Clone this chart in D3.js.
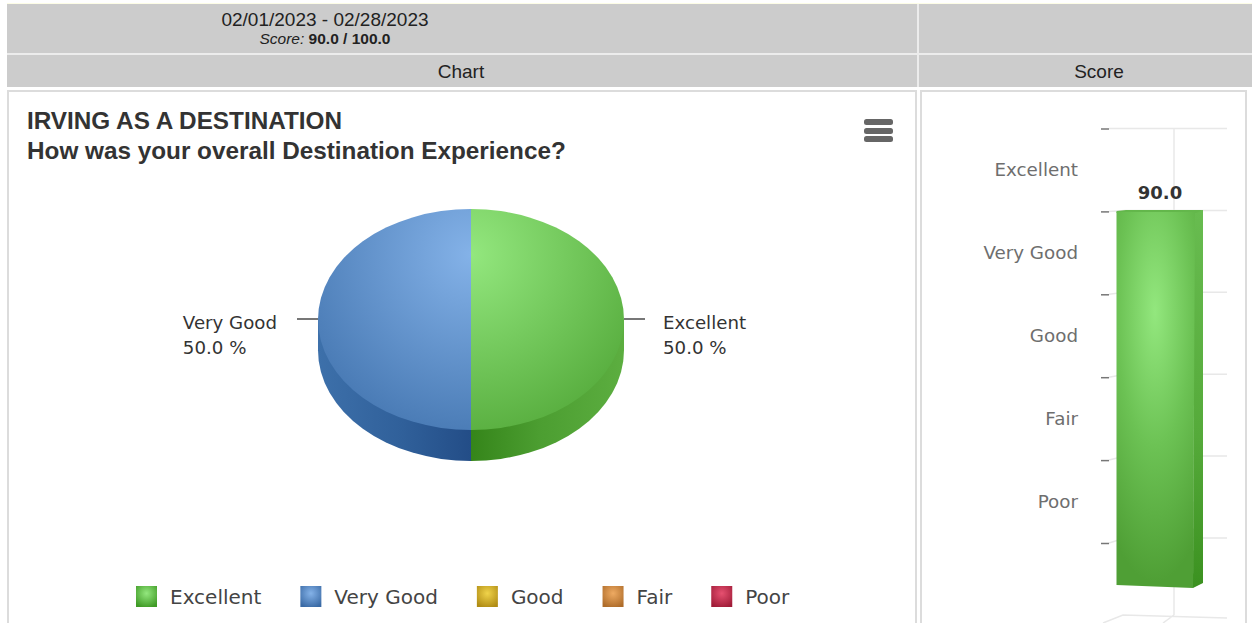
<!DOCTYPE html>
<html>
<head>
<meta charset="utf-8">
<script src="https://cdn.jsdelivr.net/npm/d3@7"></script>
<style>
    html, body { margin: 0; padding: 0; background: #fff; overflow: hidden; }
    svg { display: block; }
    text { font-family: "Liberation Sans", Arial, sans-serif; }
    .chart-text { font-family: "DejaVu Sans", sans-serif; }
</style>
</head>
<body>
<svg id="chart" width="1252" height="623"></svg>
<script>
// Chart data
const categories = ['Excellent', 'Very Good', 'Good', 'Fair', 'Poor'];
const pieCategories = ['Excellent', 'Very Good'];
const pieValues = [50, 50];
const scoreValue = 90;
const scoreTicks = [0, 20, 40, 60, 80, 100];

// Colours: [light, mid, dark] per category
const palette = {
    'Excellent': ['#93e77e', '#68bf50', '#3f9a25'],
    'Very Good': ['#84b2e8', '#5f8fc8', '#3a6aa5'],
    'Good': ['#f0d34a', '#d0aa28', '#b08c14'],
    'Fair': ['#eeaa62', '#cf8a42', '#ae6c2a'],
    'Poor': ['#e65070', '#c4304e', '#a01c38']
};

const svg = d3.select('#chart');
const defs = svg.append('defs');

// Page frame
svg.append('rect').attr('x', 7).attr('y', 3).attr('width', 1245).attr('height', 1).attr('fill', '#fdfde6');
svg.append('rect').attr('x', 7).attr('y', 4).attr('width', 1245).attr('height', 83).attr('fill', '#cccccc');
svg.append('rect').attr('x', 7).attr('y', 53).attr('width', 1245).attr('height', 2).attr('fill', '#ececec');
svg.append('rect').attr('x', 917).attr('y', 4).attr('width', 2).attr('height', 83).attr('fill', '#ececec');

[[8, 908], [921, 325]].forEach(([x, w]) => {
    svg.append('rect')
        .attr('x', x).attr('y', 91)
        .attr('width', w).attr('height', 560)
        .attr('fill', '#fff')
        .attr('stroke', '#dcdcdc')
        .attr('stroke-width', 2);
});

// Header text
svg.append('text').attr('x', 325).attr('y', 26).attr('text-anchor', 'middle')
    .style('font-size', '19px').style('fill', '#222').text('02/01/2023 - 02/28/2023');
const scoreLine = svg.append('text').attr('x', 325).attr('y', 44).attr('text-anchor', 'middle')
    .style('font-size', '15.5px').style('fill', '#222');
scoreLine.append('tspan').style('font-style', 'italic').text('Score: ');
scoreLine.append('tspan').style('font-weight', 'bold').text(`${scoreValue.toFixed(1)} / ${d3.max(scoreTicks).toFixed(1)}`);
svg.append('text').attr('x', 461).attr('y', 78).attr('text-anchor', 'middle')
    .style('font-size', '19px').style('fill', '#222').text('Chart');
svg.append('text').attr('x', 1099).attr('y', 78).attr('text-anchor', 'middle')
    .style('font-size', '19px').style('fill', '#222').text('Score');

// Titles
svg.append('text').attr('x', 27).attr('y', 129)
    .style('font-size', '24.3px').style('font-weight', 'bold').style('fill', '#333')
    .text('IRVING AS A DESTINATION');
svg.append('text').attr('x', 27).attr('y', 159)
    .style('font-size', '24.3px').style('font-weight', 'bold').style('fill', '#333')
    .text('How was your overall Destination Experience?');

// Menu button
[119, 128, 136].forEach(y => {
    svg.append('rect').attr('x', 864).attr('y', y)
        .attr('width', 29).attr('height', 6).attr('rx', 2.5)
        .attr('fill', '#666');
});

// 3D pie
const cx = 471, cy = 319.5, rx = 153, ry = 110.5, depth = 31;
const squash = ry / rx;
const pie = d3.pie().value(d => d).sort(null);
const arc = d3.arc().innerRadius(0).outerRadius(rx);
const slices = pie(pieValues);

// Slices are drawn in a squashed local space, so gradients are given in that space too
pieCategories.forEach((name, i) => {
    const c = palette[name];
    const id = 'slice-' + i;
    const top = defs.append('radialGradient').attr('id', id + '-top')
        .attr('gradientUnits', 'userSpaceOnUse')
        .attr('gradientTransform', `scale(1,${1 / squash}) translate(${-cx},${-cy})`)
        .attr('cx', cx).attr('cy', cy - 65).attr('r', 215);
    top.append('stop').attr('offset', 0).attr('stop-color', c[0]);
    top.append('stop').attr('offset', 1).attr('stop-color', i === 0 ? '#4fa535' : '#3f71ac');

    const side = defs.append('linearGradient').attr('id', id + '-side')
        .attr('gradientUnits', 'userSpaceOnUse')
        .attr('x1', 0).attr('x2', i === 0 ? rx : -rx)
        .attr('y1', 0).attr('y2', 0);
    side.append('stop').attr('offset', 0).attr('stop-color', i === 0 ? '#35851a' : '#234d87');
    side.append('stop').attr('offset', 0.45).attr('stop-color', i === 0 ? '#4c9e31' : '#30609a');
    side.append('stop').attr('offset', 1).attr('stop-color', i === 0 ? '#5cae40' : '#3d70aa');
});

const pieG = svg.append('g');

// wall first, then the top face
slices.forEach((d, i) => {
    const wall = pieG.append('g')
        .attr('transform', `translate(${cx},${cy + depth}) scale(1,${squash})`);
    wall.append('path')
        .attr('d', arc(d))
        .attr('fill', `url(#slice-${i}-side)`);
    wall.append('rect')
        .attr('x', i === 0 ? 0 : -rx)
        .attr('y', -depth / squash)
        .attr('width', rx)
        .attr('height', depth / squash)
        .attr('fill', `url(#slice-${i}-side)`);
});
slices.forEach((d, i) => {
    pieG.append('path')
        .attr('d', arc(d))
        .attr('transform', `translate(${cx},${cy}) scale(1,${squash})`)
        .attr('fill', `url(#slice-${i}-top)`);
});

// Pie labels with leader lines
slices.forEach((d, i) => {
    const mid = (d.startAngle + d.endAngle) / 2;
    const dir = Math.sin(mid) > 0 ? 1 : -1;
    const ly = cy - 0.5 - Math.cos(mid) * ry;
    svg.append('line')
        .attr('x1', cx + dir * rx).attr('x2', cx + dir * (rx + 21))
        .attr('y1', ly).attr('y2', ly)
        .attr('stroke', '#777').attr('stroke-width', 2);

    const label = svg.append('text').attr('class', 'chart-text')
        .attr('y', ly + 10)
        .style('font-size', '18.2px').style('fill', '#333')
        .text(pieCategories[i]);
    const w = label.node().getComputedTextLength();
    const lx = dir > 0 ? cx + rx + 39 : cx - rx - 41 - w;
    label.attr('x', lx);
    svg.append('text').attr('class', 'chart-text')
        .attr('x', lx).attr('y', ly + 35)
        .style('font-size', '18.2px').style('fill', '#333')
        .text(d.value.toFixed(1) + ' %');
});

// Legend, laid out left to right from measured text
let legendX = 136;
categories.forEach((name, i) => {
    const c = palette[name];
    const grad = defs.append('radialGradient').attr('id', 'legend-' + i)
        .attr('cx', 0.5).attr('cy', 0.35).attr('r', 0.7);
    grad.append('stop').attr('offset', 0).attr('stop-color', c[0]);
    grad.append('stop').attr('offset', 1).attr('stop-color', c[2]);
    svg.append('rect')
        .attr('x', legendX).attr('y', 586)
        .attr('width', 21).attr('height', 21)
        .attr('fill', `url(#legend-${i})`);
    const t = svg.append('text').attr('class', 'chart-text')
        .attr('x', legendX + 34).attr('y', 604)
        .style('font-size', '20px').style('fill', '#444')
        .text(name);
    legendX += 34 + t.node().getComputedTextLength() + 39;
});

// Score column (3D column chart)
const tickY = d3.scaleLinear().domain([0, 100]).range([543, 128.5]);
const wallY = d3.scaleLinear().domain([0, 100]).range([538, 128.5]);
const barY = d3.scaleLinear().domain([0, scoreValue]).range([585, 211]);
const bandY = d3.scaleBand().domain(categories).range([128, 543]);

const grid = svg.append('g');
grid.selectAll('path.grid')
    .data(scoreTicks)
    .enter().append('path')
    .attr('class', 'grid')
    .attr('d', d => `M1109,${tickY(d)}L1125,${wallY(d)}H1227`)
    .attr('fill', 'none')
    .attr('stroke', '#e8e8e8')
    .attr('stroke-width', 1.5);
grid.append('line').attr('x1', 1174).attr('x2', 1174).attr('y1', 128).attr('y2', 615)
    .attr('stroke', '#e8e8e8').attr('stroke-width', 1.5);
grid.append('path')
    .attr('d', 'M1103,623L1123,615L1227,618M1174,615L1163,623')
    .attr('fill', 'none').attr('stroke', '#e8e8e8').attr('stroke-width', 1.5);

// Axis ticks
const yAxis = d3.axisLeft(tickY).tickValues(scoreTicks).tickSize(8).tickFormat('');
const axisG = svg.append('g').attr('transform', 'translate(1109,0)').call(yAxis);
axisG.select('.domain').remove();
axisG.selectAll('line').attr('stroke', '#777').attr('stroke-width', 1.5);

// Category labels sit between the ticks
svg.selectAll('text.band')
    .data(categories)
    .enter().append('text')
    .attr('class', 'band chart-text')
    .attr('x', 1078)
    .attr('y', d => bandY(d) + bandY.bandwidth() / 2 + 6)
    .attr('text-anchor', 'end')
    .style('font-size', '18.3px')
    .style('fill', '#6e6e6e')
    .text(d => d);

// Column
const barFill = defs.append('radialGradient').attr('id', 'bar-front')
    .attr('gradientUnits', 'userSpaceOnUse')
    .attr('cx', 0).attr('cy', 0).attr('r', 1)
    .attr('gradientTransform', 'translate(1155,312) scale(75,270)');
barFill.append('stop').attr('offset', 0).attr('stop-color', '#93e77e');
barFill.append('stop').attr('offset', 0.5).attr('stop-color', '#6cc254');
barFill.append('stop').attr('offset', 1).attr('stop-color', '#4f9f35');
const barSide = defs.append('linearGradient').attr('id', 'bar-side')
    .attr('x1', 0).attr('x2', 0).attr('y1', 0).attr('y2', 1);
barSide.append('stop').attr('offset', 0).attr('stop-color', '#68bc50');
barSide.append('stop').attr('offset', 0.6).attr('stop-color', '#55aa3a');
barSide.append('stop').attr('offset', 1).attr('stop-color', '#3b9120');

const barTop = barY(scoreValue), barBottom = barY(0);
svg.append('path')
    .attr('d', `M1194,${barTop}L1203,${barTop - 1}V${barBottom - 2}L1193,${barBottom + 3}Z`)
    .attr('fill', 'url(#bar-side)');
svg.append('path')
    .attr('d', `M1116.5,${barTop}L1126,${barTop - 1}H1203L1196,${barTop + 2}H1116.5Z`)
    .attr('fill', '#63b74b');
svg.append('path')
    .attr('d', `M1116.5,${barTop + 1}H1195L1193,${barBottom + 3}L1116.5,${barBottom}Z`)
    .attr('fill', 'url(#bar-front)');

svg.append('text').attr('class', 'chart-text')
    .attr('x', 1160).attr('y', barTop - 12)
    .attr('text-anchor', 'middle')
    .style('font-size', '18px').style('font-weight', 'bold').style('fill', '#333')
    .text(scoreValue.toFixed(1));
</script>
</body>
</html>
